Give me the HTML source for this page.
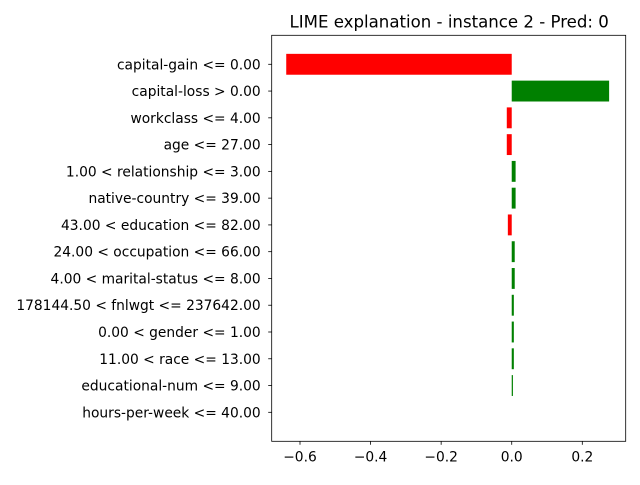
<!DOCTYPE html>
<html><head><meta charset="utf-8"><style>
body{margin:0;background:#fff;}
svg text{font-family:"DejaVu Sans","Liberation Sans",sans-serif;fill:#000;}
</style></head><body>
<svg id="chart" width="640" height="480" xmlns="http://www.w3.org/2000/svg"></svg>
<script>
const features = ["capital-gain <= 0.00","capital-loss > 0.00","workclass <= 4.00","age <= 27.00","1.00 < relationship <= 3.00","native-country <= 39.00","43.00 < education <= 82.00","24.00 < occupation <= 66.00","4.00 < marital-status <= 8.00","178144.50 < fnlwgt <= 237642.00","0.00 < gender <= 1.00","11.00 < race <= 13.00","educational-num <= 9.00","hours-per-week <= 40.00"];
const weights = [-0.639,0.276,-0.014,-0.014,0.011,0.011,-0.011,0.0085,0.0085,0.006,0.006,0.006,0.002,0.0];
const xTicks = [-0.6,-0.4,-0.2,0.0,0.2];
const xTickLabels = ["\u22120.6","\u22120.4","\u22120.2","0.0","0.2"];
const titleText = "LIME explanation - instance 2 - Pred: 0";

const L=271.7,R=625.7,T=35.3,B=441.3;
const x0=-0.6,px0=300,x1=0.2,px1=582.3;
const xs=v=>px0+(v-x0)*(px1-px0)/(x1-x0);
const rowStep=(B-T)/(features.length-1+2*1.083);
const ys=i=>T+(i+1.083)*rowStep;
const svg=document.getElementById('chart');
const NS="http://www.w3.org/2000/svg";
function mk(tag,attrs){const e=document.createElementNS(NS,tag);for(const k in attrs)e.setAttribute(k,attrs[k]);svg.appendChild(e);return e;}

const frame=mk('rect',{x:L,y:T,width:R-L,height:B-T,fill:'#fff',stroke:'none'});



const bh=0.78*rowStep;
features.forEach((f,i)=>{
  const w=weights[i];
  const a=xs(Math.min(0,w)),b=xs(Math.max(0,w));
  const r=mk('rect',{x:a,y:ys(i)-bh/2,width:(w===0?0:Math.max(b-a,1.2)),height:bh,fill:w>0?'#008000':'#ff0000'});
  
  
  const t=mk('line',{x1:L-3.5,x2:L,y1:ys(i),y2:ys(i),stroke:'#000','stroke-width':0.8});
  
  
  const lb=mk('text',{x:L-11,y:ys(i)+5,'text-anchor':'end','font-size':'13.8'});
  lb.textContent=f;
  
  
});
xTicks.forEach((v,i)=>{
  const t=mk('line',{x1:xs(v),x2:xs(v),y1:B,y2:B+3.5,stroke:'#000','stroke-width':0.8});
  
  
  const lb=mk('text',{x:xs(v),y:B+20,'text-anchor':'middle','font-size':'13.8'});
  lb.textContent=xTickLabels[i];
  
  
});
const border=mk('rect',{x:L,y:T,width:R-L,height:B-T,fill:'none',stroke:'#000','stroke-width':0.8});


const title=mk('text',{x:(L+R)/2+0.5,y:T-8,'text-anchor':'middle','font-size':'16.6'});
title.textContent=titleText;


</script>
</body></html>
